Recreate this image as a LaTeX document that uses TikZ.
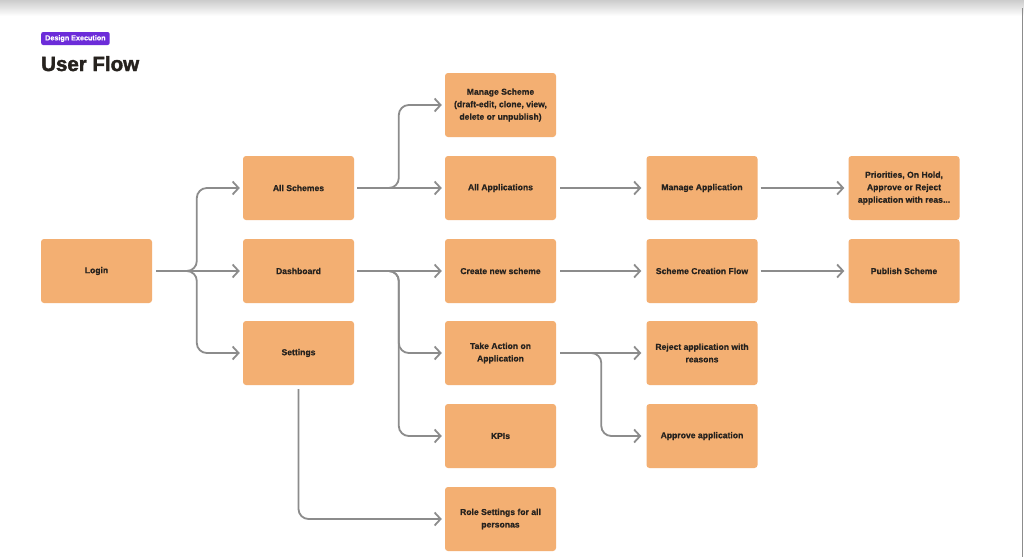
\documentclass[tikz,border=0pt]{standalone}
\usepackage{fontspec}
\setmainfont{Liberation Sans}[BoldFeatures={FakeBold=0.6}]
\newfontfamily\titlefont{Liberation Sans}[BoldFeatures={FakeBold=2}]
\usetikzlibrary{arrows.meta}
\definecolor{FlowOrange}{RGB}{243,175,114}
\definecolor{FlowGray}{RGB}{140,140,140}
\definecolor{FlowText}{RGB}{38,34,30}
\definecolor{TagPurple}{RGB}{108,44,217}

\begin{document}
\begin{tikzpicture}[x=1pt,y=-1pt,
  fbox/.style={fill=FlowOrange,draw=none,rounded corners=3pt,minimum width=111pt,
               minimum height=64pt,inner sep=0pt,align=center,text=FlowText,
               font=\fontsize{8.6}{12.5}\selectfont\bfseries},
  link/.style={draw=FlowGray,line width=1.8pt,rounded corners=10pt,
               -{Straight Barb[length=6pt,width=13pt]}},
]
\useasboundingbox (0,0) rectangle (1024,557);
\fill[white] (0,0) rectangle (1024,557);
\shade[top color=black!20,bottom color=white] (0,0) rectangle (1024,16);
\draw[black!45,line width=1pt] (1022,8) -- (1022,557);

\node[fill=TagPurple,text=white,rounded corners=2pt,inner xsep=4pt,inner ysep=0pt,
      minimum height=13pt,anchor=west,font=\fontsize{7.2}{7.2}\selectfont\bfseries]
      (tag) at (41,38.5) {Design Execution};
\node[anchor=base west,inner sep=0pt,text=FlowText,font=\titlefont\fontsize{20.5}{20.5}\selectfont\bfseries]
      (title) at (41,71) {User Flow};

\node[fbox] (login) at (96.5,271) {Login};
\node[fbox] (schemes) at (298.5,188) {All Schemes};
\node[fbox] (dash) at (298.5,271) {Dashboard};
\node[fbox] (settings) at (298.5,353) {Settings};
\node[fbox] (manage) at (500.5,105) {Manage Scheme\\(draft-edit, clone, view,\\delete or unpublish)};
\node[fbox] (apps) at (500.5,188) {All Applications};
\node[fbox] (create) at (500.5,271) {Create new scheme};
\node[fbox] (action) at (500.5,353) {Take Action on\\Application};
\node[fbox] (kpis) at (500.5,436) {KPIs};
\node[fbox] (roles) at (500.5,519) {Role Settings for all\\personas};
\node[fbox] (manapp) at (702,188) {Manage Application};
\node[fbox] (creation) at (702,271) {Scheme Creation Flow};
\node[fbox] (reject) at (702,353) {Reject application with\\reasons};
\node[fbox] (approve) at (702,436) {Approve application};
\node[fbox] (priorities) at (904,188) {Priorities, On Hold,\\Approve or Reject\\application with reas...};
\node[fbox] (publish) at (904,271) {Publish Scheme};

\draw[link] ([xshift=4pt]login.east) -| ([xshift=-46pt]schemes.west) -- ([xshift=-3pt]schemes.west);
\draw[link] ([xshift=4pt]login.east) -- ([xshift=-3pt]dash.west);
\draw[link] ([xshift=4pt]login.east) -| ([xshift=-46pt]settings.west) -- ([xshift=-3pt]settings.west);
\draw[link] ([xshift=3pt]schemes.east) -| ([xshift=-46pt]manage.west) -- ([xshift=-3pt]manage.west);
\draw[link] ([xshift=3pt]schemes.east) -- ([xshift=-3pt]apps.west);
\draw[link] ([xshift=3pt]dash.east) -- ([xshift=-3pt]create.west);
\draw[link] ([xshift=3pt]dash.east) -| ([xshift=-46pt]action.west) -- ([xshift=-3pt]action.west);
\draw[link] ([xshift=3pt]dash.east) -| ([xshift=-46pt]kpis.west) -- ([xshift=-3pt]kpis.west);
\draw[link] ([yshift=-4pt]settings.south) |- ([xshift=-3pt]roles.west);
\draw[link] ([xshift=4pt]apps.east) -- ([xshift=-5pt]manapp.west);
\draw[link] ([xshift=4pt]create.east) -- ([xshift=-5pt]creation.west);
\draw[link] ([xshift=4pt]action.east) -- ([xshift=-5pt]reject.west);
\draw[link] ([xshift=4pt]action.east) -| ([xshift=-45pt]approve.west) -- ([xshift=-5pt]approve.west);
\draw[link] ([xshift=3pt]manapp.east) -- ([xshift=-4pt]priorities.west);
\draw[link] ([xshift=3pt]creation.east) -- ([xshift=-4pt]publish.west);
\end{tikzpicture}
\end{document}
